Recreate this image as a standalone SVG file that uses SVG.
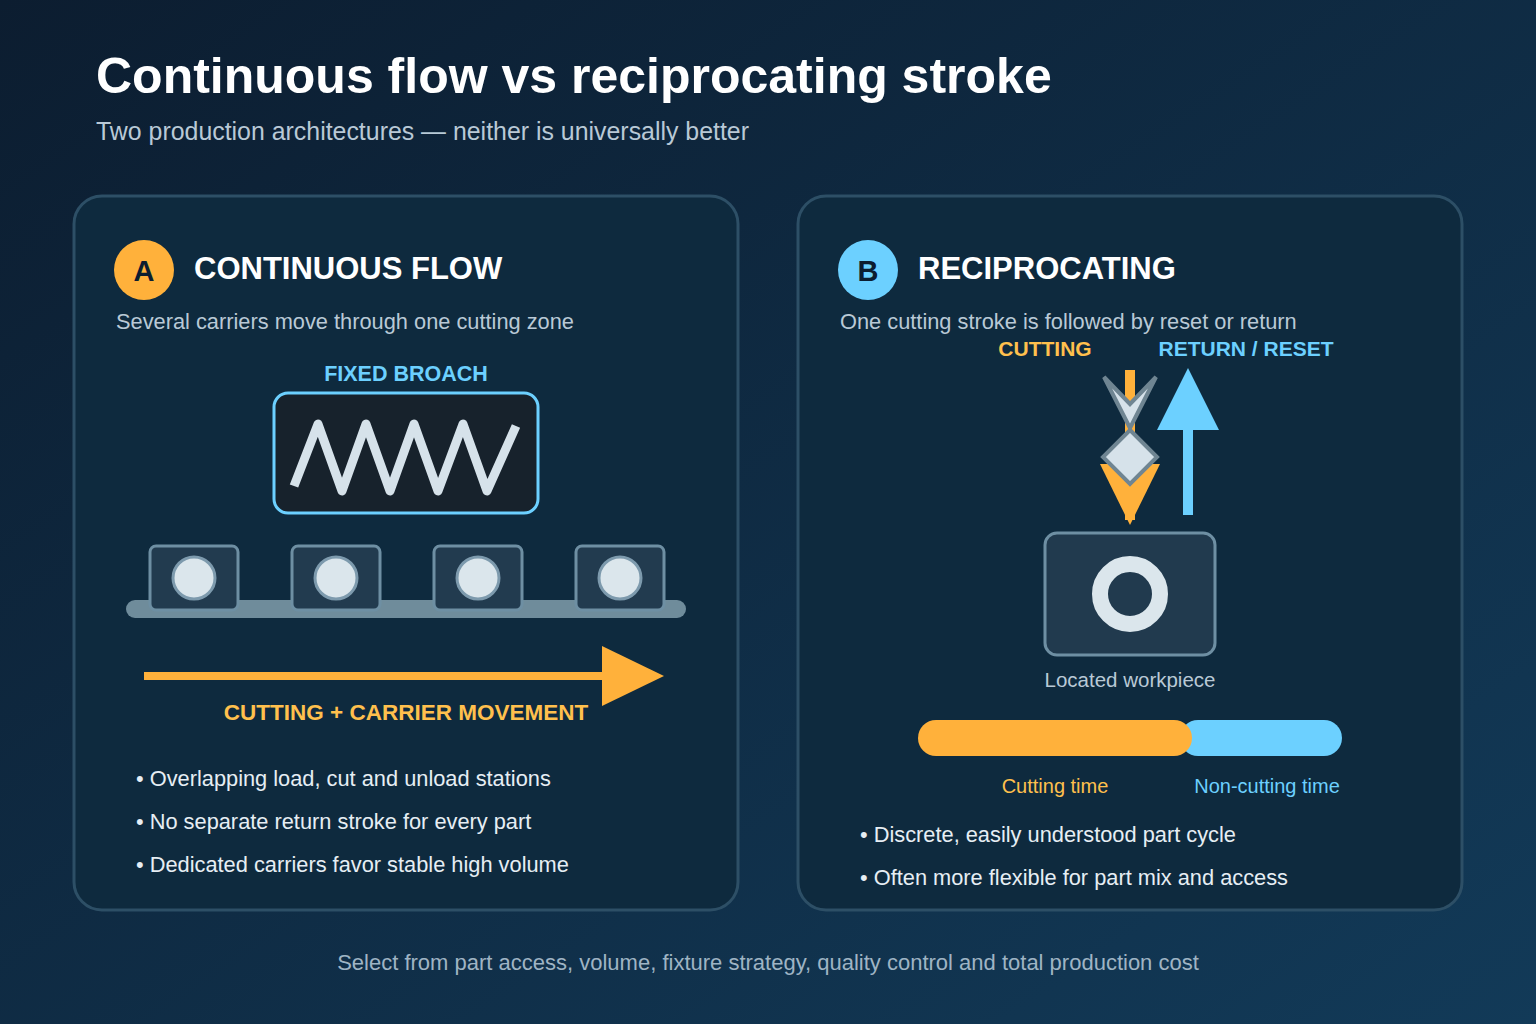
<svg xmlns="http://www.w3.org/2000/svg" width="1536" height="1024" viewBox="0 0 1536 1024">
<defs>
<linearGradient id="bg" x1="0" y1="0" x2="1" y2="1"><stop offset="0" stop-color="#0c1d30"/><stop offset="1" stop-color="#123a58"/></linearGradient>
<style>
text{font-family:"Liberation Sans",Arial,sans-serif}
.panel{fill:#0e2a3e;stroke:#2d4f66;stroke-width:3}
.h{fill:#fff;font-weight:bold;font-size:31px}
.sub{fill:#b9c9d6;font-size:21.8px}
.bul{fill:#e6eef4;font-size:21.8px}
.car{fill:#223b4f;stroke:#6e8fa3;stroke-width:3}
.dot{fill:#dbe6ec;stroke:#7d9aad;stroke-width:3}
</style>
</defs>
<rect width="1536" height="1024" fill="url(#bg)"/>
<text x="96" y="93" fill="#fff" font-weight="bold" font-size="50">Continuous flow vs reciprocating stroke</text>
<text x="96" y="140" fill="#b9c9d6" font-size="24.9">Two production architectures — neither is universally better</text>

<g id="panelA">
<rect class="panel" x="74" y="196" width="664" height="714" rx="28"/>
<circle cx="144" cy="270" r="30" fill="#ffb13b"/>
<text x="144" y="281" text-anchor="middle" fill="#0c1d30" font-weight="bold" font-size="29">A</text>
<text class="h" x="194" y="279">CONTINUOUS FLOW</text>
<text class="sub" x="116" y="329">Several carriers move through one cutting zone</text>
<text x="406" y="381" text-anchor="middle" fill="#6cd0ff" font-weight="bold" font-size="21.5">FIXED BROACH</text>
<rect x="274" y="393" width="264" height="120" rx="14" fill="#17222c" stroke="#6cd0ff" stroke-width="3"/>
<polyline points="294,486 318,424 342,491 366,424 390,491 414,424 438,491 463,424 487,491 516,426" fill="none" stroke="#d6e2ea" stroke-width="9" stroke-linejoin="round"/>
<rect x="126" y="600" width="560" height="18" rx="9" fill="#6f8c9b"/>
<rect class="car" x="150" y="546" width="88" height="64" rx="6"/><circle class="dot" cx="194" cy="578" r="21"/>
<rect class="car" x="292" y="546" width="88" height="64" rx="6"/><circle class="dot" cx="336" cy="578" r="21"/>
<rect class="car" x="434" y="546" width="88" height="64" rx="6"/><circle class="dot" cx="478" cy="578" r="21"/>
<rect class="car" x="576" y="546" width="88" height="64" rx="6"/><circle class="dot" cx="620" cy="578" r="21"/>
<rect x="144" y="672" width="462" height="8" fill="#ffb13b"/>
<polygon points="602,646 664,676 602,706" fill="#ffb13b"/>
<text x="406" y="720" text-anchor="middle" fill="#ffc04d" font-weight="bold" font-size="22.5">CUTTING + CARRIER MOVEMENT</text>
<text class="bul" x="136" y="786">• Overlapping load, cut and unload stations</text>
<text class="bul" x="136" y="829">• No separate return stroke for every part</text>
<text class="bul" x="136" y="872">• Dedicated carriers favor stable high volume</text>
</g>

<g id="panelB">
<rect class="panel" x="798" y="196" width="664" height="714" rx="28"/>
<circle cx="868" cy="270" r="30" fill="#6cd0ff"/>
<text x="868" y="281" text-anchor="middle" fill="#0c1d30" font-weight="bold" font-size="29">B</text>
<text class="h" x="918" y="279">RECIPROCATING</text>
<text class="sub" x="840" y="329">One cutting stroke is followed by reset or return</text>
<text x="1045" y="356" text-anchor="middle" fill="#ffc04d" font-weight="bold" font-size="21">CUTTING</text>
<text x="1246" y="356" text-anchor="middle" fill="#6cd0ff" font-weight="bold" font-size="21">RETURN / RESET</text>
<rect x="1125" y="370" width="10" height="150" fill="#ffb13b"/>
<polygon points="1100,464 1160,464 1130,525" fill="#ffb13b"/>
<polygon points="1104,377 1130,404 1156,377 1130,428" fill="#d6e2ea" stroke="#6f8592" stroke-width="4" stroke-linejoin="miter"/>
<polygon points="1130,430 1157,457 1130,484 1103,457" fill="#d6e2ea" stroke="#6f8592" stroke-width="4"/>
<rect x="1183" y="428" width="10" height="87" fill="#6cd0ff"/>
<polygon points="1157,430 1219,430 1188,368" fill="#6cd0ff"/>
<rect x="1045" y="533" width="170" height="122" rx="12" fill="#213a4e" stroke="#6e8fa3" stroke-width="3"/>
<circle cx="1130" cy="594" r="30" fill="none" stroke="#dbe6ec" stroke-width="16"/>
<text x="1130" y="687" text-anchor="middle" fill="#b9c9d6" font-size="20.5">Located workpiece</text>
<rect x="1180" y="720" width="162" height="36" rx="18" fill="#6cd0ff"/>
<rect x="918" y="720" width="274" height="36" rx="18" fill="#ffb13b"/>
<text x="1055" y="793" text-anchor="middle" fill="#ffc04d" font-size="20">Cutting time</text>
<text x="1267" y="793" text-anchor="middle" fill="#6cd0ff" font-size="20">Non-cutting time</text>
<text class="bul" x="860" y="842">• Discrete, easily understood part cycle</text>
<text class="bul" x="860" y="885">• Often more flexible for part mix and access</text>
</g>
<text x="768" y="970" text-anchor="middle" fill="#9fb4c4" font-size="22">Select from part access, volume, fixture strategy, quality control and total production cost</text>
</svg>
